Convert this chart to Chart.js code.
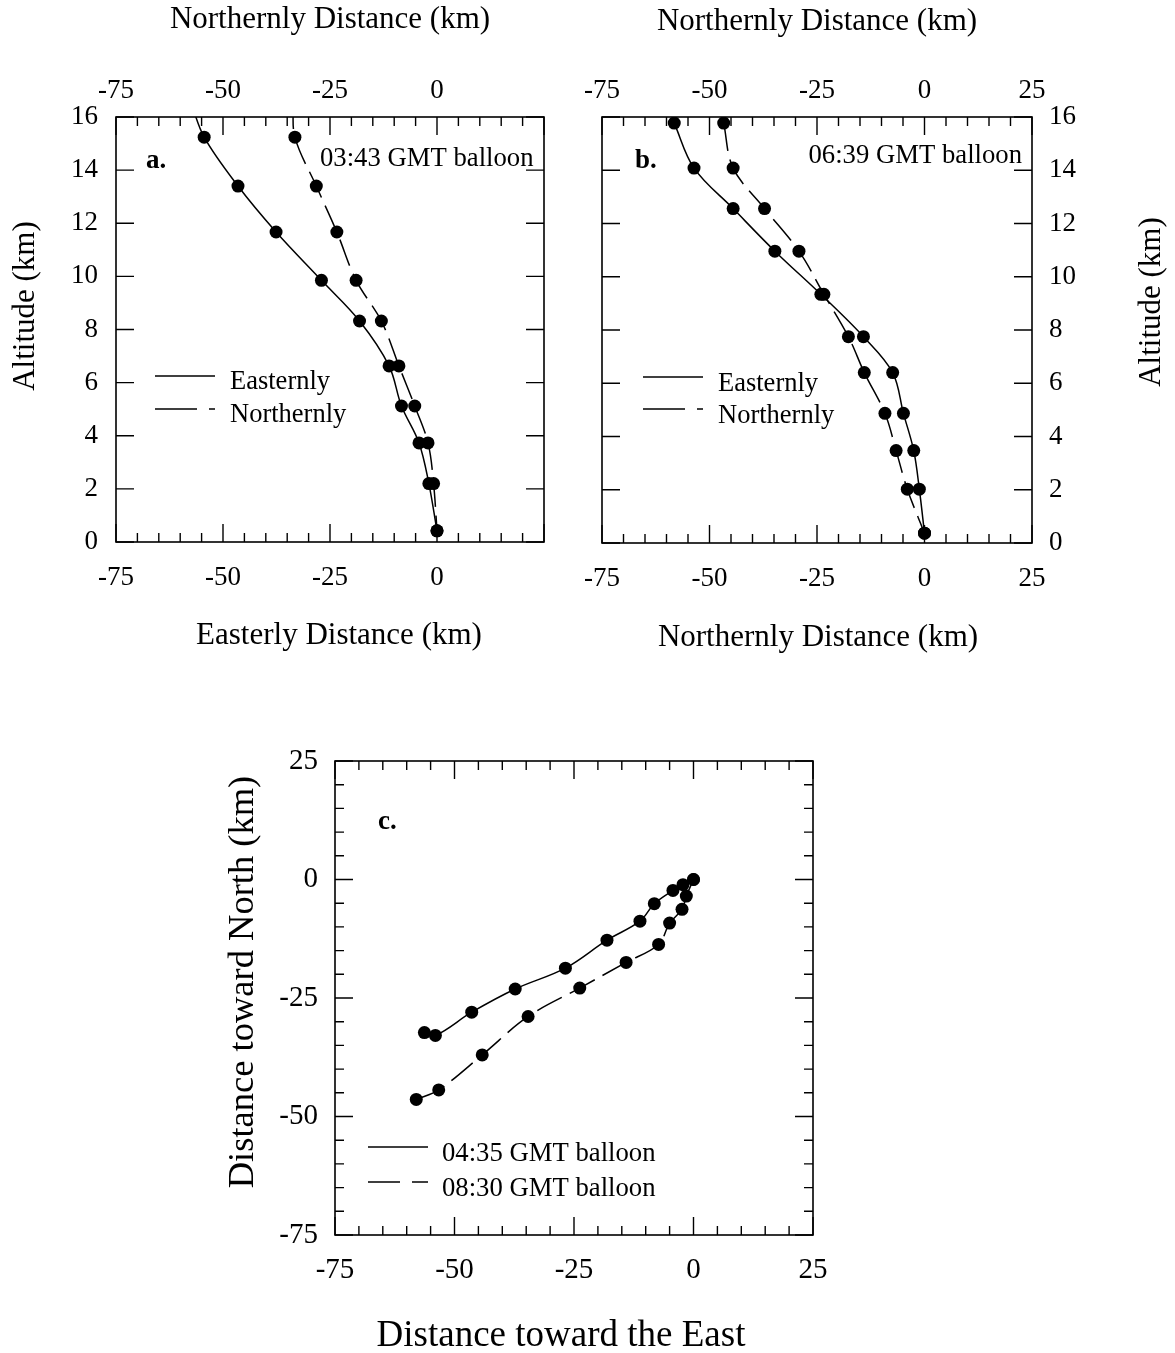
<!DOCTYPE html>
<html>
<head>
<meta charset="utf-8">
<script src="https://cdn.jsdelivr.net/npm/chart.js@4.4.0/dist/chart.umd.min.js"></script>
<style>
  html, body { margin: 0; padding: 0; background: #fff; overflow: hidden; }
  body { width: 1175px; height: 1353px; position: relative; }
  canvas { position: absolute; }
</style>
</head>
<body>
<canvas id="chartA" width="580" height="660" style="left:0;top:0"></canvas>
<canvas id="chartB" width="613" height="660" style="left:562px;top:0"></canvas>
<canvas id="chartC" width="650" height="637" style="left:200px;top:716px"></canvas>
<script>
// balloon profiles, km (first row of panel a runs off the top of the frame)
const altA = [16.6, 15.24, 13.4, 11.67, 9.85, 8.32, 6.63, 5.12, 3.73, 2.2, 0.42];
const eastA = [-57.6, -54.4, -46.5, -37.6, -27.0, -18.1, -11.2, -8.3, -4.2, -1.9, 0];
const northA = [-33.6, -33.2, -28.2, -23.4, -18.9, -13.0, -8.9, -5.2, -2.1, -0.8, 0];

const altB = [15.77, 14.08, 12.56, 10.96, 9.34, 7.75, 6.40, 4.87, 3.47, 2.02, 0.37];
const eastB = [-58.2, -53.6, -44.5, -34.8, -24.1, -14.2, -7.4, -4.9, -2.5, -1.2, 0];
const northB = [-46.7, -44.5, -37.2, -29.2, -23.4, -17.7, -14.0, -9.2, -6.6, -4.0, 0];

// horizontal tracks, panel c
const east0435 = [0, -2.2, -4.3, -8.2, -11.2, -18.1, -26.8, -37.3, -46.4, -54.0, -56.3];
const north0435 = [0, -1.1, -2.3, -5.1, -8.8, -12.8, -18.7, -23.1, -28.0, -32.9, -32.3];
const east0830 = [0, -1.5, -2.4, -5.0, -7.3, -14.1, -23.8, -34.6, -44.2, -53.3, -58.0];
const north0830 = [0, -3.5, -6.3, -9.2, -13.7, -17.5, -22.9, -28.9, -37.0, -44.4, -46.4];

// tick labels
const distTicksA = [-75, -50, -25, 0];
const distTicksB = [-75, -50, -25, 0, 25];
const altTicks = [0, 2, 4, 6, 8, 10, 12, 14, 16];
const trackTicks = [-75, -50, -25, 0, 25];

const FONT = 'Liberation Serif';
const DASH = [28, 9];

function pts(xs, ys) {
    return xs.map((x, i) => ({x: x, y: ys[i]}));
}

function series(label, xs, ys, dash) {
    return {
        label: label,
        data: pts(xs, ys),
        showLine: true,
        borderColor: '#000',
        backgroundColor: '#000',
        borderWidth: 1.5,
        borderDash: dash,
        pointRadius: 6.5,
        pointBorderWidth: 0,
        tension: 0.35
    };
}

// inward tick marks on all four sides + the box
const frameTicks = {
    id: 'frameTicks',
    afterDatasetsDraw(chart, args, o) {
        const {ctx, chartArea: a, scales} = chart;
        const isMajor = (v, m) => Math.abs(v / m - Math.round(v / m)) < 1e-6;
        ctx.save();
        ctx.strokeStyle = '#000';
        ctx.lineWidth = 1.4;
        ctx.beginPath();
        const xs = scales.x, ys = scales.y;
        for (let v = xs.min; v <= xs.max + 1e-6; v += o.xStep) {
            const px = xs.getPixelForValue(v);
            const len = isMajor(v, o.xMajor) ? o.major : o.minor;
            ctx.moveTo(px, a.top); ctx.lineTo(px, a.top + len);
            ctx.moveTo(px, a.bottom); ctx.lineTo(px, a.bottom - len);
        }
        for (let v = ys.min; v <= ys.max + 1e-6; v += o.yStep) {
            const py = ys.getPixelForValue(v);
            const len = isMajor(v, o.yMajor) ? o.major : o.minor;
            ctx.moveTo(a.left, py); ctx.lineTo(a.left + len, py);
            ctx.moveTo(a.right, py); ctx.lineTo(a.right - len, py);
        }
        ctx.stroke();
        ctx.lineWidth = 1.6;
        ctx.strokeRect(a.left, a.top, a.right - a.left, a.bottom - a.top);
        ctx.restore();
    }
};

// legend drawn inside the frame
const insetLegend = {
    id: 'insetLegend',
    afterDatasetsDraw(chart, args, o) {
        const ctx = chart.ctx;
        ctx.save();
        ctx.fillStyle = '#000';
        ctx.strokeStyle = '#000';
        ctx.lineWidth = 1.4;
        ctx.font = o.size + 'px "' + FONT + '"';
        ctx.textBaseline = 'middle';
        chart.data.datasets.forEach((ds, i) => {
            const y = o.y + i * o.gap;
            ctx.setLineDash(ds.borderDash.length ? o.dash : []);
            ctx.beginPath();
            ctx.moveTo(o.x, y);
            ctx.lineTo(o.x + o.len, y);
            ctx.stroke();
            ctx.setLineDash([]);
            ctx.fillText(ds.label, o.x + o.len + o.textGap, y + o.textDy);
        });
        ctx.restore();
    }
};

// panel letters, balloon times, axis titles placed off-centre
const notes = {
    id: 'notes',
    afterDraw(chart, args, o) {
        const ctx = chart.ctx;
        ctx.save();
        ctx.fillStyle = '#000';
        ctx.textBaseline = 'middle';
        (o.items || []).forEach(it => {
            ctx.font = (it.bold ? 'bold ' : '') + it.size + 'px "' + FONT + '"';
            ctx.textAlign = it.align || 'left';
            ctx.save();
            ctx.translate(it.x, it.y);
            if (it.rotate) ctx.rotate(-Math.PI / 2);
            ctx.fillText(it.text, 0, 0);
            ctx.restore();
        });
        ctx.restore();
    }
};

function axis(pos, min, max, tickVals, opt) {
    const horizontal = pos === 'top' || pos === 'bottom';
    return {
        type: 'linear',
        position: pos,
        min: min,
        max: max,
        afterBuildTicks: s => { s.ticks = (tickVals || []).map(v => ({value: v})); },
        afterFit: s => {
            if (horizontal) s.height = opt.size; else s.width = opt.size;
        },
        grid: {display: false, drawTicks: false},
        border: {display: false},
        ticks: {
            display: !!tickVals,
            color: '#000',
            font: {family: FONT, size: opt.tickSize || 27},
            padding: opt.pad || 0,
            maxRotation: 0,
            autoSkip: false,
            callback: v => String(v)
        },
        title: opt.title ? {
            display: true,
            text: opt.title,
            color: '#000',
            font: {family: FONT, size: 31, lineHeight: 1.2},
            padding: opt.titlePad || 0
        } : {display: false}
    };
}

function baseOptions(scales, plugins) {
    return {
        responsive: false,
        animation: false,
        events: [],
        layout: {padding: 0},
        scales: scales,
        plugins: Object.assign({legend: {display: false}, tooltip: {enabled: false}}, plugins)
    };
}

// panel a
new Chart(document.getElementById('chartA'), {
    type: 'scatter',
    data: {datasets: [
        series('Easternly', eastA, altA, []),
        series('Northernly', northA, altA, DASH)
    ]},
    options: baseOptions({
        x: axis('bottom', -75, 25, distTicksA, {size: 118, pad: 20}),
        x2: axis('top', -75, 25, distTicksA, {size: 117, pad: 10, title: 'Northernly Distance (km)', titlePad: {top: 1, bottom: 0}}),
        y: axis('left', 0, 16, altTicks, {size: 116, pad: 18}),
        y2: axis('right', 0, 16, null, {size: 36})
    }, {
        frameTicks: {xStep: 5, xMajor: 25, yStep: 2, yMajor: 2, major: 18, minor: 9},
        insetLegend: {x: 155, y: 376, gap: 33, len: 60, textGap: 15, textDy: 6, size: 26.5, dash: [42, 12]},
        notes: {items: [
            {text: 'a.', x: 146, y: 161, size: 27, bold: true},
            {text: '03:43 GMT balloon', x: 320, y: 159, size: 26.7},
            {text: 'Easterly Distance (km)', x: 339, y: 636, size: 31, align: 'center'},
            {text: 'Altitude (km)', x: 26, y: 306, size: 31, align: 'center', rotate: true}
        ]}
    }),
    plugins: [frameTicks, insetLegend, notes]
});

// panel b
new Chart(document.getElementById('chartB'), {
    type: 'scatter',
    data: {datasets: [
        series('Easternly', eastB, altB, []),
        series('Northernly', northB, altB, DASH)
    ]},
    options: baseOptions({
        x: axis('bottom', -75, 25, distTicksB, {size: 117, pad: 20}),
        x2: axis('top', -75, 25, distTicksB, {size: 117, pad: 10, title: 'Northernly Distance (km)', titlePad: {top: 3, bottom: 0}}),
        y: axis('left', 0, 16, null, {size: 40}),
        y2: axis('right', 0, 16, altTicks, {size: 143, pad: 17})
    }, {
        frameTicks: {xStep: 5, xMajor: 25, yStep: 2, yMajor: 2, major: 18, minor: 9},
        insetLegend: {x: 81, y: 377, gap: 32, len: 60, textGap: 15, textDy: 7, size: 26.5, dash: [42, 12]},
        notes: {items: [
            {text: 'b.', x: 73, y: 161, size: 27, bold: true},
            {text: '06:39 GMT balloon', x: 460, y: 156, size: 26.7, align: 'right'},
            {text: 'Northernly Distance (km)', x: 256, y: 638, size: 31, align: 'center'},
            {text: 'Altitude (km)', x: 590, y: 302, size: 31, align: 'center', rotate: true}
        ]}
    }),
    plugins: [frameTicks, insetLegend, notes]
});

// panel c
new Chart(document.getElementById('chartC'), {
    type: 'scatter',
    data: {datasets: [
        series('04:35 GMT balloon', east0435, north0435, []),
        series('08:30 GMT balloon', east0830, north0830, DASH)
    ]},
    options: baseOptions({
        x: axis('bottom', -75, 25, trackTicks, {size: 118, pad: 18, tickSize: 29}),
        x2: axis('top', -75, 25, null, {size: 45}),
        y: axis('left', -75, 25, trackTicks, {size: 135, pad: 17, tickSize: 29}),
        y2: axis('right', -75, 25, null, {size: 37})
    }, {
        frameTicks: {xStep: 5, xMajor: 25, yStep: 5, yMajor: 25, major: 18, minor: 9},
        insetLegend: {x: 168, y: 431, gap: 35, len: 60, textGap: 14, textDy: 7, size: 26.7, dash: [32, 12]},
        notes: {items: [
            {text: 'c.', x: 178, y: 106, size: 27, bold: true},
            {text: 'Distance toward the East', x: 361, y: 620, size: 37, align: 'center'},
            {text: 'Distance toward North (km)', x: 43, y: 266, size: 36.5, align: 'center', rotate: true}
        ]}
    }),
    plugins: [frameTicks, insetLegend, notes]
});
</script>
</body>
</html>
